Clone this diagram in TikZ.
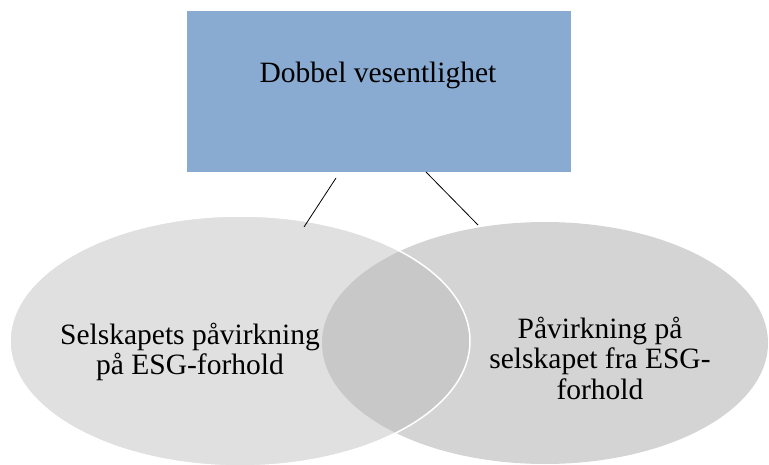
\documentclass[tikz,border=0pt]{standalone}
\usepackage{fontspec}
\setmainfont{Liberation Serif}
\usepackage{tikz}
\usetikzlibrary{shapes.geometric}

\definecolor{boxblue}{HTML}{89ABD2}
\definecolor{leftgray}{HTML}{E0E0E0}
\definecolor{rightgray}{HTML}{D4D4D4}
\definecolor{bothgray}{HTML}{C8C8C8}

\tikzset{
  topbox/.style={rectangle, fill=boxblue, minimum width=384pt, minimum height=161pt, inner sep=0pt},
  venn/.style={ellipse, inner sep=0pt},
  bigtext/.style={font=\fontsize{29.5}{30.5}\selectfont, align=center, inner sep=0pt},
  link/.style={black, line width=0.8pt}
}

\begin{document}
\begin{tikzpicture}[x=1pt,y=-1pt]
\useasboundingbox (0,0) rectangle (769,465);
% the two circles
\node[venn, fill=rightgray, minimum width=446pt, minimum height=242pt] (right) at (545,343) {};
\node[venn, fill=leftgray, minimum width=460pt, minimum height=250pt] (left) at (240,341) {};
\begin{scope}
\clip (240,341) ellipse [x radius=230, y radius=125];
\fill[bothgray] (545,343) ellipse [x radius=223, y radius=121];
\end{scope}
\draw[white, line width=1.5pt] (240,341) ellipse [x radius=230, y radius=125];
% top box
\node[topbox] (box) at (379,91.5) {};
\node[bigtext] (title) at (378,75) {Dobbel vesentlighet};
\node[bigtext] (lefttext) at (190,352) {Selskapets påvirkning\\på ESG-forhold};
\node[bigtext] (righttext) at (600,358) {Påvirkning på\\selskapet fra ESG-\\forhold};
% links
\coordinate (a1) at (336,178);
\coordinate (a2) at (304,227);
\coordinate (b1) at (426,172);
\coordinate (b2) at (478,225);
\draw[link] (a1) -- (a2);
\draw[link] (b1) -- (b2);
\end{tikzpicture}
\end{document}
